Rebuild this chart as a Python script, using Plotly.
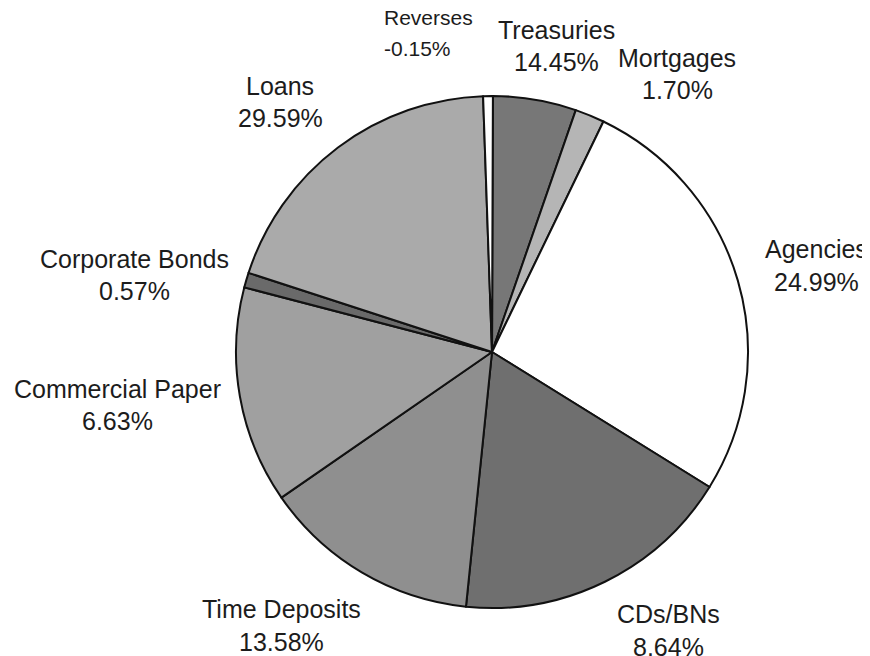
import plotly.graph_objects as go

# Slice order clockwise starting at 12 o'clock
categories = ["Treasuries", "Mortgages", "Agencies", "CDs/BNs", "Time Deposits",
              "Commercial Paper", "Corporate Bonds", "Loans", "Reverses"]
# Slice shares (percent of the circle)
shares = [5.25, 1.86, 26.67, 17.78, 13.75, 13.69, 0.94, 19.44, 0.61]
# Percent labels printed next to each slice
pct_labels = ["14.45%", "1.70%", "24.99%", "8.64%", "13.58%",
              "6.63%", "0.57%", "29.59%", "-0.15%"]

colors = ["#777777", "#b5b5b5", "#ffffff", "#6f6f6f", "#8f8f8f",
          "#a0a0a0", "#6a6a6a", "#aaaaaa", "#ffffff"]

# page body has an 8px margin; size the figure so it fits the 870x656 window
OFF = 8
W, H = 870 - OFF, 656 - OFF


def px(x):
    return (x - OFF) / W


def py(y):
    return 1 - (y - OFF) / H


fig = go.Figure(go.Pie(
    labels=categories,
    values=shares,
    sort=False,
    direction="clockwise",
    rotation=0.2,
    textinfo="none",
    hoverinfo="label+percent",
    marker=dict(colors=colors, line=dict(color="#111111", width=2)),
    domain=dict(x=[px(236), px(748)], y=[py(608), py(96)]),
    showlegend=False,
))

# label layout in window pixels: (x, y_line1, y_line2, font size, align)
label_pos = {
    "Treasuries": (556, 30, 62, 25, "center"),
    "Mortgages": (677, 58, 90, 25, "center"),
    "Agencies": (816, 249, 282, 25, "center"),
    "CDs/BNs": (668, 614, 647, 25, "center"),
    "Time Deposits": (281, 609, 642, 25, "center"),
    "Commercial Paper": (117, 389, 421, 25, "center"),
    "Corporate Bonds": (134, 259, 291, 25, "center"),
    "Loans": (280, 86, 118, 25, "center"),
    "Reverses": (382, 18, 48, 21, "left"),
}

annotations = []
for name, pct in zip(categories, pct_labels):
    x, y1, y2, fs, al = label_pos[name]
    xanchor = "left" if al == "left" else "center"
    for txt, yy in ((name, y1), (pct, y2)):
        annotations.append(dict(
            text=txt, x=px(x), y=py(yy), xref="paper", yref="paper",
            xanchor=xanchor, yanchor="middle", showarrow=False,
            font=dict(family="Liberation Sans, Arial, sans-serif", size=fs, color="#1c1c1c"),
        ))

fig.update_layout(
    width=W, height=H,
    margin=dict(l=0, r=0, t=0, b=0),
    paper_bgcolor="white",
    plot_bgcolor="white",
    annotations=annotations,
)

fig.write_html("out.html")
